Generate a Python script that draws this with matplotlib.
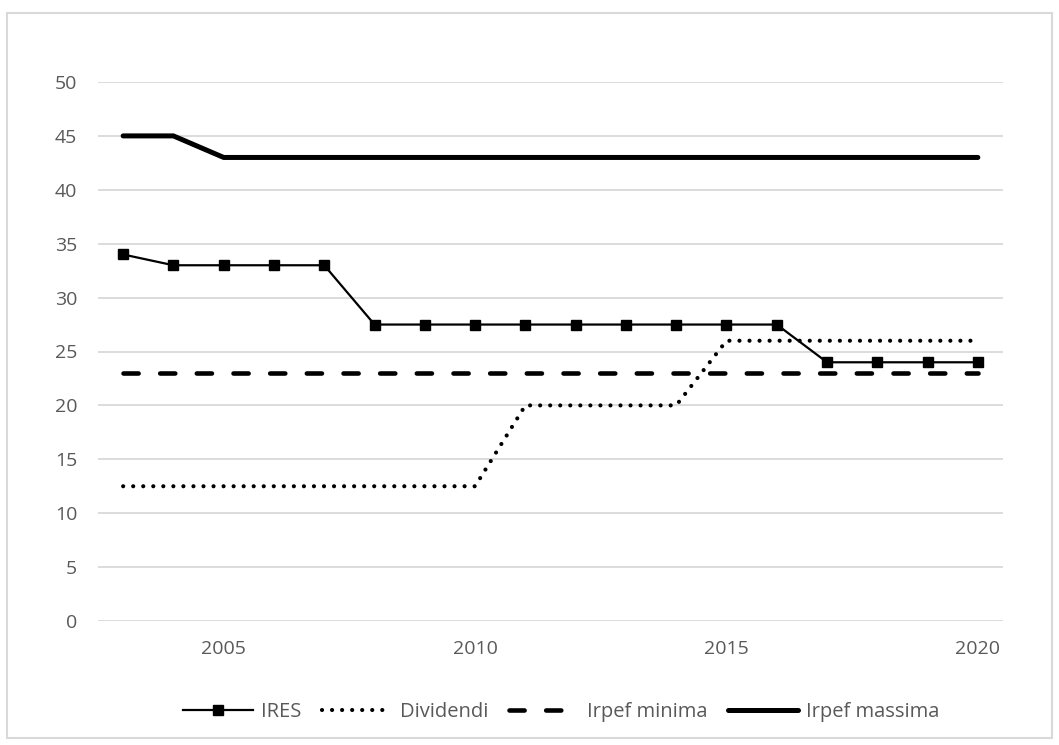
import matplotlib

matplotlib.use("Agg")
import matplotlib.pyplot as plt
from matplotlib.patches import Rectangle

years = list(range(2003, 2021))
ires = [34, 33, 33, 33, 33, 27.5, 27.5, 27.5, 27.5, 27.5, 27.5, 27.5, 27.5, 27.5, 24, 24, 24, 24]
dividendi = [12.5] * 8 + [20] * 4 + [26] * 6
irpef_minima = [23] * 18
irpef_massima = [45, 45] + [43] * 16

plt.rcParams.update({
    "font.family": ["Open Sans", "DejaVu Sans"],
    "axes.spines.top": False,
    "axes.spines.right": False,
    "axes.spines.left": False,
    "axes.spines.bottom": False,
})

fig = plt.figure(figsize=(10.59, 7.45), dpi=100)
# light grey chart-area border, as in the Excel export
fig.patches.append(Rectangle((7 / 1059, 7 / 745), 1045 / 1059, 725 / 745,
                             transform=fig.transFigure, fill=False,
                             edgecolor="#d9d9d9", linewidth=1.5))
ax = fig.add_axes([98 / 1059, 1 - 621 / 745, 905 / 1059, 539 / 745])

ax.plot(years, ires, color="black", linewidth=1.6, marker="s", markersize=7,
        label="IRES", zorder=5)
ax.plot(years, dividendi, color="black", linewidth=3.0, linestyle=(0, (0.01, 2.4)),
        dash_capstyle="round", label="Dividendi", zorder=4)
ax.plot(years, irpef_minima, color="black", linewidth=3.3, linestyle=(0, (3.3, 4.7)),
        dash_capstyle="round", label="Irpef minima", zorder=4)
ax.plot(years, irpef_massima, color="black", linewidth=3.6, solid_capstyle="round",
        label="Irpef massima", zorder=4)

ax.set_xlim(2002.5, 2020.5)
ax.set_ylim(0, 50)
ax.set_yticks(range(0, 51, 5))
ax.set_xticks([2005, 2010, 2015, 2020])
ax.grid(axis="y", color="#d9d9d9", linewidth=1.3)
ax.set_axisbelow(True)
ax.tick_params(length=0, labelsize=14, colors="#595959")
ax.tick_params(axis="x", pad=14)
ax.tick_params(axis="y", pad=15)

leg = fig.legend(loc="center", bbox_to_anchor=(0.53, 1 - 712 / 745), ncol=4,
                 frameon=False, fontsize=14.5, handlelength=3.5, columnspacing=1.0,
                 handletextpad=0.4)
for t in leg.get_texts():
    t.set_color("#595959")

fig.savefig("out.png", dpi=100)
